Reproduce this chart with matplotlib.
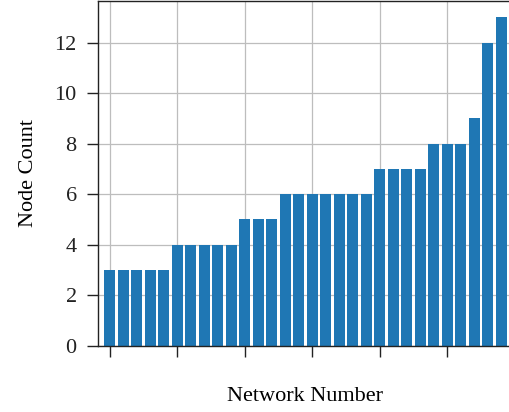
import numpy as np
import matplotlib
matplotlib.use("Agg")
import matplotlib.pyplot as plt

# node count per network, sorted ascending
counts = [3, 3, 3, 3, 3,
          4, 4, 4, 4, 4,
          5, 5, 5,
          6, 6, 6, 6, 6, 6, 6,
          7, 7, 7, 7,
          8, 8, 8,
          9, 12, 13]
xticks = [0, 5, 10, 15, 20, 25]
yticks = [0, 2, 4, 6, 8, 10, 12]

plt.rcParams["font.family"] = ["Liberation Serif", "DejaVu Serif"]
plt.rcParams["font.size"] = 16

fig = plt.figure(figsize=(5.09, 4.12), dpi=100)
ax = fig.add_axes([97.5 / 509, 66.3 / 412, 414.5 / 509, 344.7 / 412])

x = np.arange(len(counts))
ax.bar(x, counts, width=0.8, color="#1f77b4", zorder=2)

ax.set_xlim(-0.9, 29.8)
ax.set_ylim(0, 13.65)
ax.set_xticks(xticks)
ax.set_xticklabels([])
ax.set_yticks(yticks)
ax.grid(True, color="#bdbdbd", lw=0.9, zorder=0)
ax.set_axisbelow(True)
ax.tick_params(direction="out", length=8, width=1, pad=7, colors="#222222")
for s in ax.spines.values():
    s.set_color("#222222")
    s.set_linewidth(1.0)

ax.set_xlabel("Network Number", labelpad=15)
ax.set_ylabel("Node Count", labelpad=12)

fig.savefig("out.png", dpi=100)
